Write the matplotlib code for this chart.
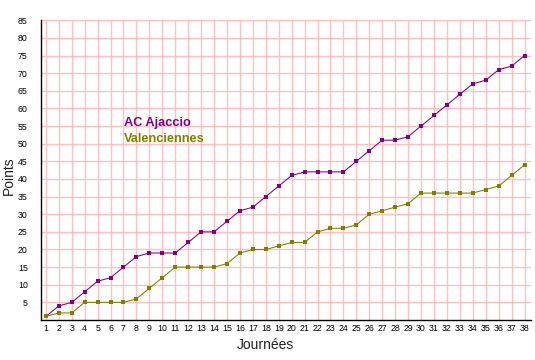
import matplotlib
matplotlib.use("Agg")
import matplotlib.pyplot as plt

journees = list(range(1, 39))
ajaccio = [1, 4, 5, 8, 11, 12, 15, 18, 19, 19, 19, 22, 25, 25, 28, 31, 32, 35, 38, 41,
           42, 42, 42, 42, 45, 48, 51, 51, 52, 55, 58, 61, 64, 67, 68, 71, 72, 75]
valenciennes = [1, 2, 2, 5, 5, 5, 5, 6, 9, 12, 15, 15, 15, 15, 16, 19, 20, 20, 21, 22,
                22, 25, 26, 26, 27, 30, 31, 32, 33, 36, 36, 36, 36, 36, 37, 38, 41, 44]
y_ticks = list(range(5, 90, 5))
team_names = ["AC Ajaccio", "Valenciennes"]
colors = ["#800080", "#808000"]

plt.rcParams['font.family'] = ['Liberation Sans', 'DejaVu Sans']

fig = plt.figure(figsize=(5.35, 3.6), dpi=100)
ax = fig.add_axes([40.7/535, 40/360, (531-40.7)/535, (320-20.3)/360])

ax.set_xlim(0.6, 38.5)
ax.set_ylim(0, 85)
ax.set_xticks(journees)
ax.set_xticklabels([str(j) for j in journees], fontsize=6.3)
ax.set_yticks(y_ticks)
ax.set_yticklabels([str(v) for v in y_ticks], fontsize=6.3)
ax.tick_params(axis='both', length=0)
ax.tick_params(axis='y', pad=9.3)
ax.tick_params(axis='x', pad=3)
ax.grid(True, color="#ffc0c0", linewidth=1.0)
ax.set_axisbelow(True)
for s in ['top', 'right']:
    ax.spines[s].set_visible(False)
for s in ['left', 'bottom']:
    ax.spines[s].set_color('black')
    ax.spines[s].set_linewidth(1.0)

for vals, c in zip([ajaccio, valenciennes], colors):
    ax.plot(journees, vals, color=c, linewidth=0.75, marker='s', markersize=2.6,
            markeredgewidth=0, clip_on=False, zorder=3)

ax.text(0.169, 0.648, team_names[0], transform=ax.transAxes, color=colors[0],
        fontsize=9.2, fontweight='bold', va='baseline', ha='left')
ax.text(0.169, 0.595, team_names[1], transform=ax.transAxes, color=colors[1],
        fontsize=9.2, fontweight='bold', va='baseline', ha='left')

fig.text(265/535, 1 - 345/360, "Journées", fontsize=10, ha='center', va='center', color='#222222')
fig.text(9/535, 1 - 176/360, "Points", fontsize=10, ha='center', va='center', rotation=90, color='#222222')

fig.savefig("out.png", dpi=100)
